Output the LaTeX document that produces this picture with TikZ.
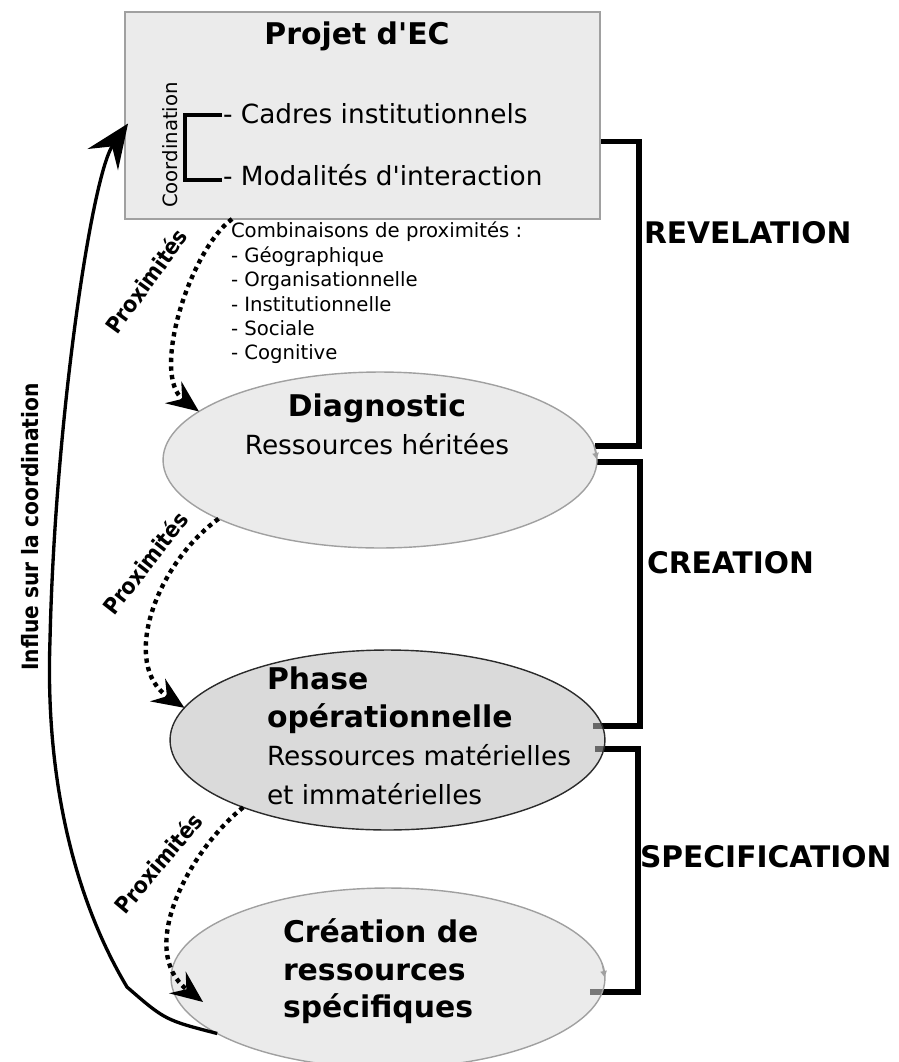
\documentclass[tikz,border=0pt]{standalone}
\usepackage{fontspec}
\setmainfont{DejaVu Sans}
\newfontfamily\plainfont{DejaVu Sans}
\newfontfamily\narrowfont{DejaVu Sans Condensed}[BoldFont={DejaVu Sans Condensed Bold}]
\usetikzlibrary{shapes.geometric,arrows.meta,calc,backgrounds}
\definecolor{boxfill}{HTML}{EBEBEB}
\definecolor{boxedge}{HTML}{A0A0A0}
\definecolor{stagefill}{HTML}{DBDBDB}
\definecolor{phasefill}{HTML}{BCBCBC}
\definecolor{phaseedge}{HTML}{2B2B2B}

\begin{document}
\begin{tikzpicture}[
  x=0.02cm, y=-0.02cm,
  every node/.style={inner sep=0pt, outer sep=0pt},
  titletext/.style={font=\plainfont\fontsize{17}{21.3}\selectfont\bfseries},
  bodytext/.style={font=\plainfont\fontsize{15}{21.7}\selectfont},
  smalltext/.style={font=\plainfont\fontsize{11.2}{13.9}\selectfont},
  sidetext/.style={font=\plainfont\fontsize{16.9}{20}\selectfont\bfseries},
  proxtext/.style={font=\narrowfont\bfseries\fontsize{12.8}{15}\selectfont},
  stage/.style={ellipse, draw=boxedge, line width=0.8pt, fill=stagefill, fill opacity=0.55,
    minimum width=8.68cm, minimum height=3.52cm},
  bracket/.style={line width=3.2pt},
  prox/.style={line width=2.5pt, dash pattern=on 2.5pt off 2.4pt,
    -{Stealth[length=0.64cm, width=0.54cm, inset=0.22cm]}},
  tinytip/.style={draw=boxedge, line width=0.6pt, -{Latex[length=4pt, width=4pt]}}
]
\useasboundingbox (0,0) rectangle (899,1062);

% project box
\node[draw=boxedge, fill=boxfill, line width=0.8pt, minimum width=9.5cm, minimum height=4.14cm] (proj) at (362.5,115.5) {};
\node[titletext, anchor=base] (projtitle) at (357,44) {Projet d'EC};
\node[smalltext, rotate=90] (coord) at (170,145) {Coordination};
\node[bodytext, anchor=base west] (cadres) at (223,123) {- Cadres institutionnels};
\node[bodytext, anchor=base west] (modal) at (223,185) {- Modalités d'interaction};
\draw[line width=2.2pt] ($(cadres.base west)+(-1,-8)$) -- ++(-37,0) |- ($(modal.base west)+(-1,-5)$);

\node[smalltext, align=left, anchor=north west] (combi) at (231,222)
  {Combinaisons de proximités :\\- Géographique\\- Organisationnelle\\- Institutionnelle\\- Sociale\\- Cognitive};

% stages
\node[stage] (diag) at (380,460) {};
\node[stage, fill=phasefill, draw=phaseedge, minimum width=8.7cm, minimum height=3.6cm] (phase) at (387.5,740) {};
\node[stage, minimum height=3.6cm] (cre) at (388,978) {};

\node[titletext, anchor=base] (diagtitle) at (377,416) {Diagnostic};
\node[bodytext, anchor=base] (diagres) at (377,454) {Ressources héritées};
\node[bodytext, align=left, anchor=north west] (phasetext) at (267,667)
  {{\fontsize{17}{21.7}\selectfont\bfseries Phase}\\{\fontsize{17}{21.7}\selectfont\bfseries opérationnelle}\\Ressources matérielles\\et immatérielles};
\node[titletext, align=left, anchor=north west] (cretext) at (283,919) {Création de\\ressources\\spécifiques};

% side brackets
\node[sidetext, anchor=base west] (revel) at (644,243) {REVELATION};
\node[sidetext, anchor=base west] (creat) at (647,573) {CREATION};
\node[sidetext, anchor=base west] (spec) at (640,867) {SPECIFICATION};

\begin{pgfonlayer}{background}
\draw[bracket] ($(proj.east)+(0,26)$) -- ++(39,0) |- ($(diag.east)+(-2,-14)$);
\draw[bracket] ($(diag.east)+(0,2)$) -- ++(43,0) |- ($(phase.east)+(-12,-14)$);
\draw[bracket] ($(phase.east)+(-10,9)$) -- ++(43,0) |- ($(cre.east)+(-15,14)$);
\end{pgfonlayer}
\draw[tinytip] (diag.4) -- (diag.east);
\draw[tinytip] (cre.4) -- (cre.east);

% proximity arrows
\draw[prox] ($(proj.south west)+(107,0)$) .. controls (190,250) and (150,375) .. (diag.165);
\draw[prox] (diag.200) .. controls (155,565) and (120,665) .. (phase.171);
\draw[prox] (phase.205) .. controls (190,850) and (135,950) .. ($(cre.west)+(32,24)$);
\node[proxtext, rotate=54] (prox1) at (146,281) {Proximités};
\node[proxtext, rotate=52] (prox2) at (145,563) {Proximités};
\node[proxtext, rotate=50] (prox3) at (158,863) {Proximités};

% feedback to coordination
\draw[line width=1.9pt, -{Stealth[length=0.88cm, width=0.74cm, inset=0.32cm]}]
  (cre.198) .. controls (165,1020) .. (127,987)
  .. controls (75,900) and (45,780) .. (50,640)
  .. controls (55,420) and (92,175) .. ($(proj.west)+(3,8)$);
\node[proxtext, rotate=90] (influe) at (30,527) {Influe sur la coordination};
\end{tikzpicture}
\end{document}
